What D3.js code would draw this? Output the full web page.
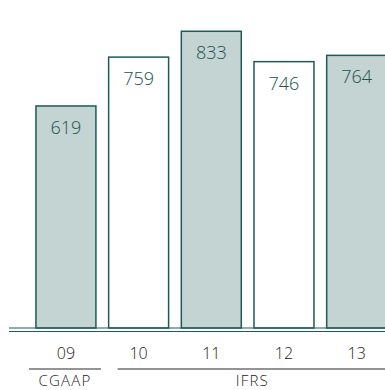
<!DOCTYPE html>
<html>
<head>
<meta charset="utf-8">
<script src="https://cdn.jsdelivr.net/npm/d3@7"></script>
<style>
  body { margin: 0; background: #fff; }
  text { font-family: "Open Sans", "Lato", sans-serif; font-weight: 300; }
</style>
</head>
<body>
<div class="chart"></div>
<script>
var years = ["09", "10", "11", "12", "13"];
var values = [619, 759, 833, 746, 764];
var shaded = [true, false, true, false, true];
var groups = ["CGAAP", "IFRS", "IFRS", "IFRS", "IFRS"];

var svgWidth = 385;
var svgHeight = 390;
var baseY = 328;

var svg = d3.select(".chart")
  .append("svg")
  .attr("width", svgWidth)
  .attr("height", svgHeight);

var xScale = d3.scaleBand()
  .domain(years)
  .range([29.6, 393])
  .paddingInner(0.175)
  .paddingOuter(0.0875);

var yScale = d3.scaleLinear()
  .domain([0, 1000])
  .range([322, -27]);

// bars
svg.selectAll("rect.bar")
  .data(values)
  .enter()
  .append("rect")
  .attr("class", "bar")
  .attr("x", (d, i) => xScale(years[i]))
  .attr("y", d => yScale(d))
  .attr("width", xScale.bandwidth())
  .attr("height", d => baseY - yScale(d))
  .attr("fill", (d, i) => shaded[i] ? "#c3d4d3" : "#ffffff")
  .attr("stroke", "#1f5a55")
  .attr("stroke-width", 1.5);

// value labels
svg.selectAll("text.val")
  .data(values)
  .enter()
  .append("text")
  .attr("class", "val")
  .attr("x", (d, i) => xScale(years[i]) + xScale.bandwidth() / 2)
  .attr("y", d => yScale(d) + 28)
  .attr("text-anchor", "middle")
  .style("font-size", "18px")
  .style("fill", "#22524e")
  .text(d => d);

// double baseline
[baseY, baseY + 3.5].forEach(function(y) {
  svg.append("line")
    .attr("x1", 9).attr("x2", svgWidth)
    .attr("y1", y).attr("y2", y)
    .attr("stroke", "#1f5a55")
    .attr("stroke-width", 1.2);
});

// year ticks
svg.selectAll("text.yr")
  .data(years)
  .enter()
  .append("text")
  .attr("class", "yr")
  .attr("x", d => xScale(d) + xScale.bandwidth() / 2)
  .attr("y", 358.5)
  .attr("text-anchor", "middle")
  .style("font-size", "16px")
  .style("fill", "#222")
  .text(d => d);

// group brackets
var groupNames = Array.from(new Set(groups));
groupNames.forEach(function(g) {
  var idx = groups.map((v, i) => v === g ? i : -1).filter(i => i >= 0);
  var first = years[idx[0]], last = years[idx[idx.length - 1]];
  var x1 = xScale(first) - 7;
  var x2 = xScale(last) + xScale.bandwidth() + 5;
  if (g === "IFRS") x1 = xScale(first) + 9;
  svg.append("line")
    .attr("x1", x1).attr("x2", Math.min(x2, svgWidth))
    .attr("y1", 369).attr("y2", 369)
    .attr("stroke", "#2b2b2b")
    .attr("stroke-width", 1.2);
  svg.append("text")
    .attr("x", g === "IFRS" ? (x1 + svgWidth + 2) / 2 : (x1 + x2) / 2)
    .attr("y", 386)
    .attr("text-anchor", "middle")
    .style("font-size", "15px")
    .style("letter-spacing", "1.2px")
    .style("fill", "#222")
    .text(g);
});
</script>
</body>
</html>
